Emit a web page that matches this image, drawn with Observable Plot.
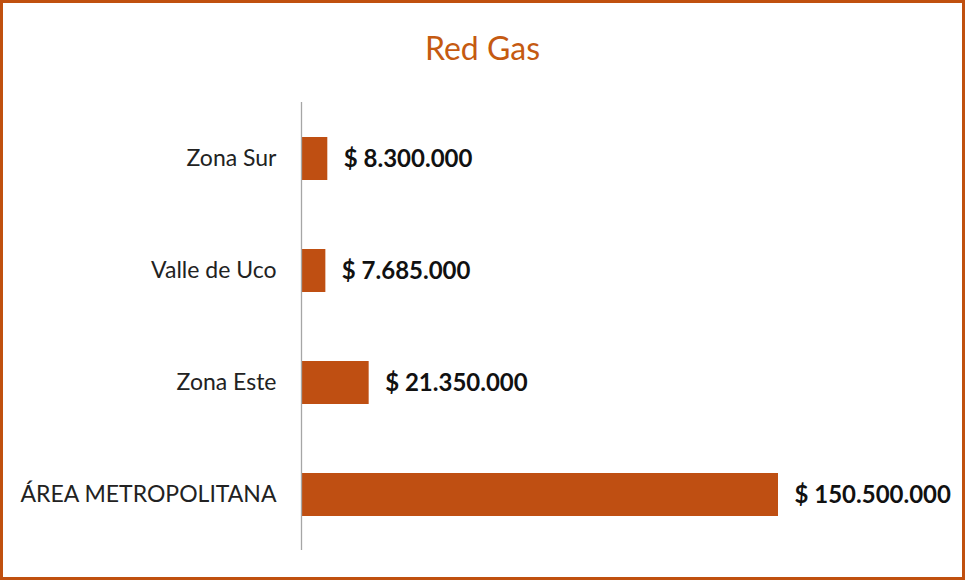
<!DOCTYPE html>
<html><head><meta charset="utf-8">
<script src="https://cdn.jsdelivr.net/npm/d3@7"></script>
<script src="https://cdn.jsdelivr.net/npm/@observablehq/plot@0.6"></script>
<style>
html,body{margin:0;padding:0;background:#fff;}
#box{position:relative;width:965px;height:580px;box-sizing:border-box;border:3px solid #C0500F;overflow:hidden;}
#title{position:absolute;left:0;right:0;top:29px;line-height:1;text-align:center;font-family:Lato,"Open Sans",sans-serif;font-size:32px;color:#C55A11;}
#chart{position:absolute;left:0;top:0;}
</style></head>
<body>
<div id="box"><div id="title">Red Gas</div><div id="chart"></div></div>
<script>
const categories = ["Zona Sur", "Valle de Uco", "Zona Este", "ÁREA METROPOLITANA"];
const values = [8300000, 7685000, 21350000, 150500000];
const data = categories.map((c, i) => ({zona: c, valor: values[i]}));
const loc = d3.formatLocale({decimal: ",", thousands: ".", grouping: [3], currency: ["$ ", ""]});
const fmt = loc.format("$,.0f");
const color = "#BF4F12";
const plot = Plot.plot({
  width: 959, height: 574,
  marginLeft: 298, marginRight: 184, marginTop: 99, marginBottom: 27,
  style: {fontFamily: "Lato, 'Open Sans', sans-serif", fontSize: "23px", color: "#222"},
  x: {domain: [0, 150500000], axis: null},
  y: {domain: categories, paddingInner: 0.62, paddingOuter: 0.31, label: null, tickSize: 0, tickPadding: 25},
  marks: [
    Plot.barX(data, {x: "valor", y: "zona", fill: color}),
    Plot.ruleX([0], {stroke: "#a6a6a6", strokeWidth: 1.3}),
    Plot.text(data, {x: "valor", y: "zona", text: d => fmt(d.valor), textAnchor: "start", dx: 16, fontWeight: "bold", fill: "#111", fontSize: 24})
  ]
});
document.getElementById("chart").appendChild(plot);
</script>
</body></html>
